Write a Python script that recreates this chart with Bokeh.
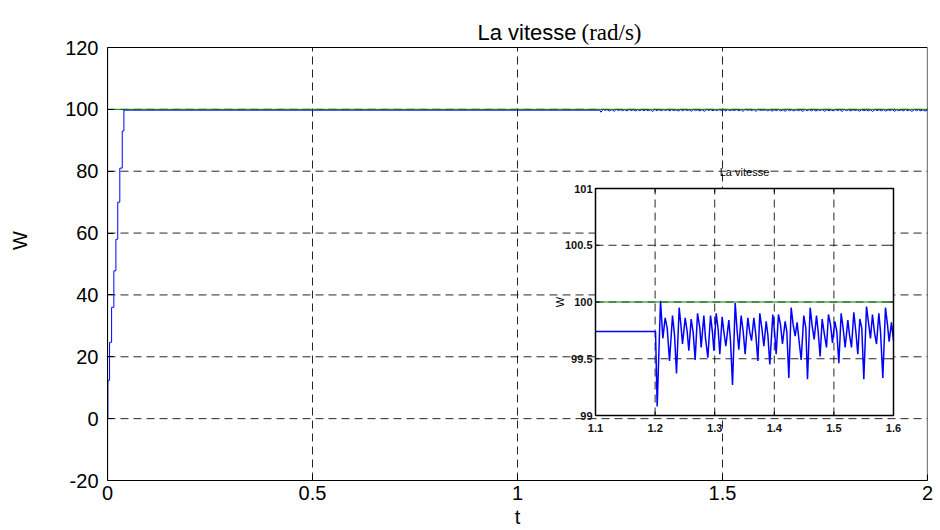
import math

from bokeh.core.properties import value
from bokeh.embed import file_html
from bokeh.models import FixedTicker, Range1d
from bokeh.plotting import figure
from bokeh.resources import INLINE

# ---------------------------------------------------------------- data
# main axes ticks
x_ticks = [0, 0.5, 1, 1.5, 2]
x_tick_labels = ["0", "0.5", "1", "1.5", "2"]
y_ticks = [-20, 0, 20, 40, 60, 80, 100, 120]
y_tick_labels = ["-20", "0", "20", "40", "60", "80", "100", "120"]

# speed reference (rad/s)
ref_t = [0.0, 2.0]
ref_w = [100.0, 100.0]

# run-up of the speed: staircase reaching the reference
rise_t = [0.0, 0.001, 0.005, 0.010, 0.0155, 0.0205, 0.025, 0.030, 0.036, 0.040]
rise_w = [0.0, 12.4, 24.7, 36.0, 47.8, 58.0, 70.0, 81.0, 93.0, 100.0]

# steady state before the load step
steady_t = [0.040, 1.100, 1.200]
steady_w = [99.74, 99.74, 99.74]

# speed after the load is applied at t = 1.2 s
load_t = [1.2007, 1.2035, 1.2091, 1.2130, 1.2169, 1.2203, 1.2242, 1.2292, 1.2326, 1.2359,
          1.2404, 1.2438, 1.2460, 1.2505, 1.2538, 1.2566, 1.2605, 1.2639, 1.2672, 1.2712,
          1.2751, 1.2773, 1.2818, 1.2846, 1.2885, 1.2930, 1.2963, 1.2986, 1.3025, 1.3058,
          1.3086, 1.3125, 1.3153, 1.3187, 1.3237, 1.3265, 1.3299, 1.3344, 1.3377, 1.3405,
          1.3444, 1.3478, 1.3511, 1.3556, 1.3590, 1.3618, 1.3657, 1.3690, 1.3724, 1.3757,
          1.3791, 1.3825, 1.3864, 1.3892, 1.3925, 1.3975, 1.4009, 1.4031, 1.4070, 1.4104,
          1.4137, 1.4182, 1.4210, 1.4244, 1.4283, 1.4316, 1.4350, 1.4383, 1.4417, 1.4451,
          1.4495, 1.4529, 1.4557, 1.4602, 1.4635, 1.4669, 1.4708, 1.4736, 1.4769, 1.4803,
          1.4842, 1.4876, 1.4909, 1.4943, 1.4976, 1.5015, 1.5049, 1.5083, 1.5122, 1.5155,
          1.5189, 1.5234, 1.5262, 1.5295, 1.5334, 1.5368, 1.5401, 1.5435, 1.5468, 1.5502,
          1.5547, 1.5580, 1.5614, 1.5647, 1.5681, 1.5715, 1.5754, 1.5782, 1.5821, 1.5865,
          1.5899, 1.5927, 1.5966, 1.6000]
load_w = [99.74, 99.08, 100.01, 99.68, 99.86, 99.77, 99.48, 99.88, 99.71, 99.37,
          99.95, 99.77, 99.63, 99.86, 99.74, 99.57, 99.85, 99.73, 99.49, 99.90,
          99.77, 99.60, 99.88, 99.68, 99.51, 99.88, 99.73, 99.57, 99.90, 99.76,
          99.54, 99.87, 99.74, 99.61, 99.84, 99.66, 99.27, 99.99, 99.74, 99.58,
          99.88, 99.74, 99.54, 99.86, 99.73, 99.66, 99.86, 99.71, 99.48, 99.90,
          99.77, 99.61, 99.83, 99.71, 99.45, 99.89, 99.71, 99.54, 99.89, 99.80,
          99.63, 99.83, 99.74, 99.33, 99.95, 99.80, 99.70, 99.82, 99.65, 99.49,
          99.88, 99.77, 99.32, 99.95, 99.79, 99.67, 99.88, 99.74, 99.52, 99.85,
          99.71, 99.60, 99.89, 99.80, 99.64, 99.83, 99.74, 99.46, 99.90, 99.77,
          99.60, 99.84, 99.71, 99.60, 99.91, 99.74, 99.54, 99.85, 99.77, 99.32,
          99.96, 99.82, 99.68, 99.89, 99.73, 99.63, 99.90, 99.74, 99.33, 99.95,
          99.80, 99.65, 99.82, 99.66]

# speed ripple until the end of the simulation
tail_t = [1.605, 1.610, 1.616, 1.621, 1.626, 1.632, 1.637, 1.642, 1.648, 1.653,
          1.658, 1.664, 1.669, 1.674, 1.680, 1.685, 1.690, 1.696, 1.701, 1.706,
          1.712, 1.717, 1.722, 1.728, 1.733, 1.738, 1.744, 1.749, 1.754, 1.760,
          1.765, 1.770, 1.776, 1.781, 1.786, 1.792, 1.797, 1.802, 1.808, 1.813,
          1.818, 1.824, 1.829, 1.834, 1.840, 1.845, 1.850, 1.856, 1.861, 1.866,
          1.872, 1.877, 1.882, 1.888, 1.893, 1.898, 1.904, 1.909, 1.914, 1.920,
          1.925, 1.930, 1.936, 1.941, 1.946, 1.952, 1.957, 1.962, 1.968, 1.973,
          1.978, 1.984, 1.989, 1.994, 2.000]
tail_w = [99.88, 99.55, 99.90, 99.40, 99.86, 99.60, 99.92, 99.50, 99.85, 99.35,
          99.95, 99.62, 99.87, 99.48, 99.89, 99.58, 99.84, 99.33, 99.96, 99.60,
          99.88, 99.52, 99.90, 99.45, 99.86, 99.63, 99.93, 99.36, 99.88, 99.55,
          99.85, 99.50, 99.91, 99.60, 99.87, 99.34, 99.95, 99.58, 99.86, 99.47,
          99.89, 99.62, 99.84, 99.40, 99.92, 99.56, 99.88, 99.50, 99.86, 99.35,
          99.94, 99.60, 99.87, 99.52, 99.90, 99.45, 99.85, 99.62, 99.91, 99.38,
          99.88, 99.57, 99.86, 99.49, 99.92, 99.60, 99.85, 99.33, 99.95, 99.58,
          99.88, 99.50, 99.87, 99.44, 99.80]

# zoom window
inset_x_ticks = [1.1, 1.2, 1.3, 1.4, 1.5, 1.6]
inset_x_labels = ["1.1", "1.2", "1.3", "1.4", "1.5", "1.6"]
inset_y_ticks = [99.0, 99.5, 100.0, 100.5, 101.0]
inset_y_labels = ["99", "99.5", "100", "100.5", "101"]

# ---------------------------------------------------------------- layout
W, H = 940, 530
F_LEFT, F_RIGHT, F_BOTTOM = 107, 927, 480   # drawing frame (reaches the top edge)
BOX_TOP = 47                                 # pixel row of y = 120
TITLE_BASE = 32                              # pixel row of the title baseline
I_LEFT, I_RIGHT, I_TOP, I_BOTTOM = 595, 893, 188, 415
X0, X1 = x_ticks[0], x_ticks[-1]
Y0, Y1 = y_ticks[0], y_ticks[-1]
IX0, IX1 = inset_x_ticks[0], inset_x_ticks[-1]
IY0, IY1 = inset_y_ticks[0], inset_y_ticks[-1]

SANS = value("Liberation Sans")
SERIF = value("Liberation Serif")
GRID_DASH = "8 5"
GRID = dict(line_color="black", line_alpha=0.85, line_width=1, line_dash=GRID_DASH)

# staircase points of the run-up
stair_t, stair_w = [rise_t[0]], [rise_w[0]]
for i in range(1, len(rise_t)):
    stair_t += [rise_t[i], rise_t[i]]
    stair_w += [rise_w[i - 1], rise_w[i]]

speed_t = stair_t + steady_t + load_t + tail_t
speed_w = stair_w + steady_w + load_w + tail_w

# the frame spans up to the canvas top so the title can be drawn as text
ky_main = (Y1 - Y0) / (F_BOTTOM - BOX_TOP)
p = figure(
    width=W, height=H,
    x_range=Range1d(X0, X1), y_range=Range1d(Y0, Y1 + BOX_TOP * ky_main),
    output_backend="svg", toolbar_location=None,
    min_border_left=F_LEFT, min_border_right=W - F_RIGHT,
    min_border_top=0, min_border_bottom=H - F_BOTTOM,
    background_fill_color="white", border_fill_color="white",
)
p.outline_line_color = None
p.xgrid.visible = False
p.ygrid.visible = False

for ax in (p.xaxis[0], p.yaxis[0]):
    ax.axis_line_color = "black"
    ax.major_tick_in = 6
    ax.major_tick_out = 0
    ax.minor_tick_line_color = None
    ax.major_label_text_font = "Liberation Sans"
    ax.major_label_text_font_size = "20px"
    ax.major_label_text_color = "black"
    ax.axis_label_text_font = "Liberation Sans"
    ax.axis_label_text_font_size = "20px"
    ax.axis_label_text_font_style = "normal"
    ax.axis_label_text_color = "black"

p.xaxis[0].ticker = FixedTicker(ticks=x_ticks)
p.xaxis[0].major_label_overrides = {t: s for t, s in zip(x_ticks, x_tick_labels)}
p.xaxis[0].major_label_standoff = 5
p.xaxis[0].axis_label = "t"
p.xaxis[0].axis_label_standoff = 3
p.yaxis[0].ticker = FixedTicker(ticks=y_ticks)
p.yaxis[0].major_label_overrides = {t: s for t, s in zip(y_ticks, y_tick_labels)}
p.yaxis[0].bounds = (Y0, Y1)
p.yaxis[0].major_label_standoff = 9
p.yaxis[0].axis_label = "W"
p.yaxis[0].axis_label_standoff = 31

# main grid
gxm = x_ticks[1:-1]
gym = y_ticks[1:-1]
p.segment(x0=gxm, y0=[Y0] * len(gxm), x1=gxm, y1=[Y1] * len(gxm), level="underlay", **GRID)
p.segment(x0=[X0] * len(gym), y0=gym, x1=[X1] * len(gym), y1=gym, level="underlay", **GRID)

# main curves
p.line(speed_t, speed_w, line_color="#0000ff", line_width=1)
p.line(ref_t, ref_w, line_color="#008000", line_width=1)

# main box
p.quad(left=[X0], right=[X1], bottom=[Y0], top=[Y1],
       fill_color=None, line_color="black", line_width=1.2)

# title: sans part + serif unit
p.text(x=[X0], y=[Y1], text=["La vitesse"], x_offset=576 - F_LEFT,
       y_offset=TITLE_BASE - BOX_TOP,
       text_align="right", text_baseline="alphabetic", text_font=SANS,
       text_font_size="22px", text_color="black")
p.text(x=[X0], y=[Y1], text=["(rad/s)"], x_offset=581 - F_LEFT,
       y_offset=TITLE_BASE - BOX_TOP,
       text_align="left", text_baseline="alphabetic", text_font=SERIF,
       text_font_size="23px", text_color="black")

# ---------------------------------------------------------------- inset
kx = (IX1 - IX0) / (I_RIGHT - I_LEFT)
ky = (IY1 - IY0) / (I_BOTTOM - I_TOP)
p.extra_x_ranges = {"ix": Range1d(IX0 - (I_LEFT - F_LEFT) * kx, IX1 + (F_RIGHT - I_RIGHT) * kx)}
p.extra_y_ranges = {"iy": Range1d(IY0 - (F_BOTTOM - I_BOTTOM) * ky, IY1 + I_TOP * ky)}
ir = dict(x_range_name="ix", y_range_name="iy")

p.quad(left=[IX0], right=[IX1], bottom=[IY0], top=[IY1],
       fill_color="white", line_color=None, **ir)

# inset grid
gx = inset_x_ticks[1:-1]
gy = inset_y_ticks[1:-1]
p.segment(x0=gx, y0=[IY0] * len(gx), x1=gx, y1=[IY1] * len(gx), **GRID, **ir)
p.segment(x0=[IX0] * len(gy), y0=gy, x1=[IX1] * len(gy), y1=gy, **GRID, **ir)

# inset curves, restricted to the zoom window
zt = [t for t in steady_t + load_t if IX0 <= t <= IX1]
zw = [w for t, w in zip(steady_t + load_t, steady_w + load_w) if IX0 <= t <= IX1]
p.line(zt, zw, line_color="#0000ff", line_width=1.5, **ir)
p.line([IX0, IX1], [ref_w[0], ref_w[1]], line_color="#008000", line_width=1, **ir)

# inset box and inward ticks
p.quad(left=[IX0], right=[IX1], bottom=[IY0], top=[IY1],
       fill_color=None, line_color="black", line_width=1.5, **ir)
nx, ny = len(inset_x_ticks), len(inset_y_ticks)
p.ray(x=inset_x_ticks, y=[IY0] * nx, length=4, length_units="screen", angle=math.pi / 2,
      line_color="black", line_width=1, **ir)
p.ray(x=inset_x_ticks, y=[IY1] * nx, length=4, length_units="screen", angle=-math.pi / 2,
      line_color="black", line_width=1, **ir)
p.ray(x=[IX0] * ny, y=inset_y_ticks, length=4, length_units="screen", angle=0,
      line_color="black", line_width=1, **ir)
p.ray(x=[IX1] * ny, y=inset_y_ticks, length=4, length_units="screen", angle=math.pi,
      line_color="black", line_width=1, **ir)

# inset tick labels
p.text(x=inset_x_ticks, y=[IY0] * nx, text=inset_x_labels, y_offset=8,
       text_align="center", text_baseline="top", text_font=SANS,
       text_font_style="bold", text_font_size="11px", text_color="#111111", **ir)
p.text(x=[IX0] * ny, y=inset_y_ticks, text=inset_y_labels, x_offset=-3,
       text_align="right", text_baseline="middle", text_font=SANS,
       text_font_style="bold", text_font_size="11px", text_color="#111111", **ir)

# inset title and y label
p.text(x=[(IX0 + IX1) / 2], y=[IY1], text=["La vitesse"], y_offset=-17,
       text_align="center", text_baseline="middle", text_font=SANS,
       text_font_size="11px", text_color="black", **ir)
p.text(x=[IX0], y=[ref_w[0]], text=["W"], x_offset=-36, angle=math.pi / 2,
       text_align="center", text_baseline="middle", text_font=SANS,
       text_font_size="11px", text_color="black", **ir)

open("out.html", "w").write(file_html(p, INLINE))
